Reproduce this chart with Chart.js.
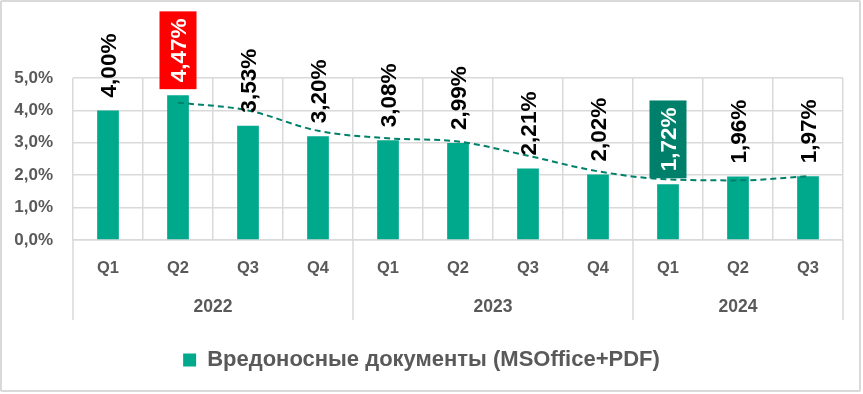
<!DOCTYPE html>
<html>
<head>
<meta charset="utf-8">
<script src="https://cdn.jsdelivr.net/npm/chart.js@4/dist/chart.umd.min.js"></script>
<style>
  html, body { margin: 0; padding: 0; background: #fff; }
  .wrap { position: relative; width: 863px; height: 394px; }
  .wrap canvas { position: absolute; left: 0; top: 0; }
  .frame { position: absolute; left: 0; top: 0; width: 861px; height: 392px; border: 2px solid #d9d9d9; box-sizing: border-box; border-radius: 2px; pointer-events: none; }
</style>
</head>
<body>
<div class="wrap">
  <canvas id="chart" width="863" height="394"></canvas>
  <div class="frame"></div>
</div>
<script>
// Chart data
const quarters = ['Q1', 'Q2', 'Q3', 'Q4', 'Q1', 'Q2', 'Q3', 'Q4', 'Q1', 'Q2', 'Q3'];
const years = ['2022', '2023', '2024'];
const quartersPerYear = [4, 4, 3];
const share = [4.00, 4.47, 3.53, 3.20, 3.08, 2.99, 2.21, 2.02, 1.72, 1.96, 1.97];
const trend = [null, 4.24, 4.00, 3.37, 3.14, 3.04, 2.60, 2.12, 1.87, 1.84, 1.97];
const yTicks = [0, 1, 2, 3, 4, 5];
const seriesName = 'Вредоносные документы (MSOffice+PDF)';

const FONT = '"Liberation Sans", Arial, sans-serif';
const GRAY = '#595959';
const GRID = '#d9d9d9';
const BAR = '#00a88c';
const highlight = { 1: '#ff0000', 8: '#00806a' };

// year group centers / boundaries in category index units
const yearCenters = [];
const yearEdges = [-0.5];
let start = 0;
quartersPerYear.forEach(n => {
  yearCenters.push(start + (n - 1) / 2);
  start += n;
  yearEdges.push(start - 0.5);
});

const fmtPct = (v, d) => v.toFixed(d).replace('.', ',') + '%';

// Rotated value labels above bars
const valueLabels = {
  id: 'valueLabels',
  afterDatasetsDraw(chart) {
    const ctx = chart.ctx;
    const meta = chart.getDatasetMeta(0);
    const size = 22.5;
    ctx.save();
    ctx.font = 'bold ' + size + 'px ' + FONT;
    meta.data.forEach((bar, i) => {
      const text = fmtPct(share[i], 2);
      const w = ctx.measureText(text).width;
      const bg = highlight[i];
      ctx.save();
      ctx.translate(bar.x, bar.y - 13);
      ctx.rotate(-Math.PI / 2);
      if (bg) {
        ctx.fillStyle = bg;
        ctx.fillRect(-7, -18.5, w + 14, 37);
      }
      ctx.fillStyle = bg ? '#fff' : '#000';
      ctx.textAlign = 'left';
      ctx.textBaseline = 'alphabetic';
      ctx.fillText(text, 0, size * 0.36);
      ctx.restore();
    });
    ctx.restore();
  }
};

// Year separators under the category axis
const yearLines = {
  id: 'yearLines',
  afterDraw(chart) {
    const ctx = chart.ctx;
    const x = chart.scales.x;
    const yr = chart.scales.years;
    ctx.save();
    ctx.strokeStyle = GRID;
    ctx.lineWidth = 1.5;
    yearEdges.forEach(v => {
      const px = x.getPixelForValue(v);
      ctx.beginPath();
      ctx.moveTo(px, chart.chartArea.bottom);
      ctx.lineTo(px, yr.top + 32);
      ctx.stroke();
    });
    ctx.restore();
  }
};

Chart.defaults.font.family = FONT;

new Chart(document.getElementById('chart'), {
  data: {
    labels: quarters,
    datasets: [
      {
        type: 'bar',
        label: seriesName,
        data: share,
        backgroundColor: BAR,
        barPercentage: 0.31,
        categoryPercentage: 1,
        order: 2
      },
      {
        type: 'line',
        label: 'trend',
        data: trend,
        borderColor: '#00806a',
        borderWidth: 2,
        borderDash: [6, 4],
        pointRadius: 0,
        tension: 0.4,
        cubicInterpolationMode: 'monotone',
        order: 1
      }
    ]
  },
  options: {
    responsive: false,
    animation: false,
    layout: { padding: { top: 78, right: 20, left: 0, bottom: 13 } },
    scales: {
      y: {
        min: 0,
        max: 5,
        afterBuildTicks: (s) => { s.ticks = yTicks.map(v => ({ value: v })); },
        afterFit: (s) => { s.width = 73; },
        grid: { color: GRID, lineWidth: 1.5, drawTicks: false },
        border: { display: false },
        ticks: {
          padding: 20,
          color: GRAY,
          font: { size: 17, weight: 'bold' },
          callback: (v) => fmtPct(v, 1)
        }
      },
      x: {
        offset: true,
        afterFit: (s) => { s.height = 48; },
        grid: { color: GRID, lineWidth: 1.5, drawTicks: false, offset: true },
        border: { color: GRID, width: 1.5 },
        ticks: {
          padding: 19,
          color: GRAY,
          font: { size: 16.5, weight: 'bold' },
          maxRotation: 0,
          autoSkip: false
        }
      },
      years: {
        type: 'linear',
        position: 'bottom',
        min: -0.5,
        max: quarters.length - 0.5,
        afterBuildTicks: (s) => { s.ticks = yearCenters.map(v => ({ value: v })); },
        afterFit: (s) => { s.height = 51; },
        grid: { display: false, drawTicks: false },
        border: { display: false },
        ticks: {
          padding: 8.5,
          color: GRAY,
          font: { size: 17.5, weight: 'bold' },
          maxRotation: 0,
          autoSkip: false,
          callback: (v, i) => years[i]
        }
      }
    },
    plugins: {
      tooltip: { enabled: false },
      legend: {
        position: 'bottom',
        labels: {
          boxWidth: 13,
          boxHeight: 13,
          color: GRAY,
          font: { size: 22, weight: 'bold' },
          filter: (item) => item.datasetIndex === 0
        }
      }
    }
  },
  plugins: [valueLabels, yearLines]
});
</script>
</body>
</html>
